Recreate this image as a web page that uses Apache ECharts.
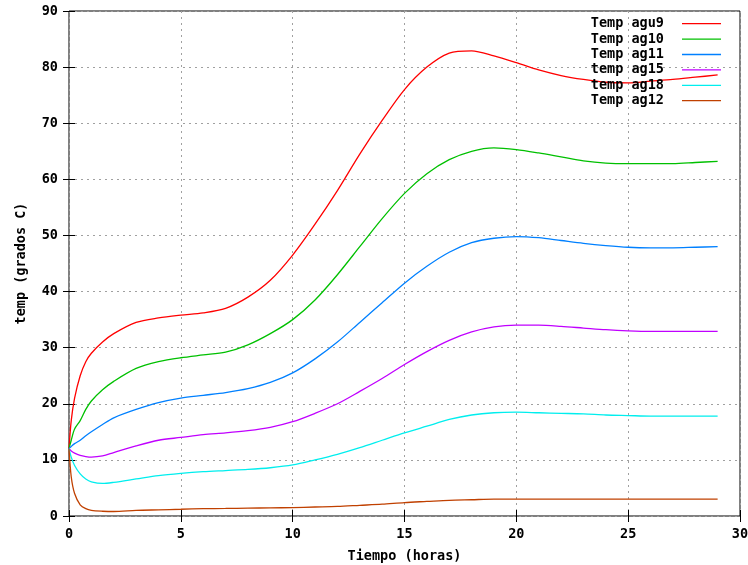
<!DOCTYPE html>
<html lang="es">
<head>
    <meta charset="UTF-8">
    <title>temp</title>
    <style>
        body { margin: 0; background: #fff; }
        .main { width: 748px; height: 565px; }
    </style>
    <script src="https://cdn.jsdelivr.net/npm/echarts@6/dist/echarts.min.js"></script>
</head>
<body>
    <div class="main"></div>
    <script>
        // horas
        var tiempo = [0, 0.1, 0.25, 0.5, 0.75, 1, 1.5, 2, 3, 4, 5, 6, 7, 8, 9, 10, 11, 12, 13, 14, 15, 16, 17, 18, 19, 20, 21, 22, 23, 24, 25, 26, 27, 28, 29];

        var agu9 = [12, 17, 21, 25, 27.5, 29, 31, 32.5, 34.5, 35.3, 35.8, 36.2, 37, 39, 42, 46.5, 52, 58, 64.5, 70.5, 76, 80, 82.5, 82.9, 82, 80.8, 79.5, 78.5, 77.8, 77.3, 77.2, 77.5, 77.8, 78.2, 78.6];
        var ag10 = [12, 13.5, 15.5, 17, 19, 20.5, 22.5, 24, 26.3, 27.5, 28.2, 28.7, 29.2, 30.5, 32.5, 35, 38.5, 43, 48, 53, 57.5, 61, 63.5, 65, 65.6, 65.3, 64.7, 64, 63.3, 62.9, 62.8, 62.8, 62.8, 63, 63.2];
        var ag11 = [12, 12.4, 12.9, 13.5, 14.3, 15, 16.3, 17.5, 19, 20.2, 21, 21.5, 22, 22.7, 23.8, 25.5, 28, 31, 34.5, 38, 41.5, 44.5, 47, 48.7, 49.5, 49.8, 49.6, 49.1, 48.6, 48.2, 47.9, 47.8, 47.8, 47.9, 48];
        var ag15 = [12, 11.6, 11.2, 10.8, 10.6, 10.5, 10.7, 11.3, 12.5, 13.5, 14, 14.5, 14.8, 15.2, 15.8, 16.8, 18.3, 20, 22.2, 24.5, 27, 29.3, 31.3, 32.8, 33.7, 34, 34, 33.8, 33.5, 33.2, 33, 32.9, 32.9, 32.9, 32.9];
        var ag18 = [12, 10.5, 9, 7.5, 6.6, 6.1, 5.8, 6, 6.6, 7.2, 7.6, 7.9, 8.1, 8.3, 8.6, 9.1, 10, 11, 12.2, 13.5, 14.8, 16, 17.2, 18, 18.4, 18.5, 18.4, 18.3, 18.2, 18, 17.9, 17.8, 17.8, 17.8, 17.8];
        var ag12 = [12, 7, 4, 2, 1.3, 1, 0.85, 0.8, 1, 1.1, 1.2, 1.3, 1.35, 1.4, 1.45, 1.5, 1.6, 1.7, 1.9, 2.1, 2.4, 2.6, 2.8, 2.9, 3, 3, 3, 3, 3, 3, 3, 3, 3, 3, 3];

        var nombres = ['Temp agu9', 'Temp ag10', 'Temp ag11', 'temp ag15', 'temp ag18', 'Temp ag12'];
        var colores = ['#ff0000', '#00c000', '#0080ff', '#c000ff', '#00eeee', '#c04000'];
        var valores = [agu9, ag10, ag11, ag15, ag18, ag12];

        var fuente = 'DejaVu Sans Mono';
        var texto = { fontFamily: fuente, fontWeight: 'bold', fontSize: 13.5, color: '#000' };
        var myChart = echarts.init(document.querySelector('.main'));

        var series = [];
        for (var i = 0; i < nombres.length; i++) {
            var puntos = [];
            for (var j = 0; j < tiempo.length; j++) {
                puntos.push([tiempo[j], valores[i][j]]);
            }
            series.push({
                name: nombres[i],
                type: 'line',
                data: puntos,
                smooth: 0.3,
                showSymbol: false,
                lineStyle: { color: colores[i], width: 1.3 },
                itemStyle: { color: colores[i] }
            });
        }

        var rejilla = { show: true, lineStyle: { color: '#a0a0a0', type: [2, 4], width: 1 } };
        var marcas = { inside: true, length: 6, lineStyle: { color: '#000' } };

        var option = {
            animation: false,
            backgroundColor: '#fff',
            grid: {
                left: 69, right: 8, top: 11, bottom: 49,
                outerBoundsMode: 'none',
                show: true, borderColor: '#000', borderWidth: 1
            },
            legend: {
                orient: 'vertical',
                right: 27,
                top: 16,
                padding: 0,
                align: 'right',
                itemGap: 0,
                itemWidth: 39,
                itemHeight: 10,
                icon: 'path://M0,5L39,5L39,6.3L0,6.3Z',
                textStyle: Object.assign({}, texto, { lineHeight: 15.4, padding: [0, 13, 0, 0] }),
                data: nombres.map(function (n, k) {
                    return { name: n, itemStyle: { color: colores[k] } };
                })
            },
            xAxis: [{
                type: 'value',
                min: 0, max: 30, interval: 5,
                name: 'Tiempo (horas)',
                nameLocation: 'middle',
                nameGap: 33,
                nameTextStyle: texto,
                axisLine: { show: false },
                axisTick: marcas,
                axisLabel: Object.assign({ margin: 11 }, texto),
                splitLine: rejilla
            }, {
                type: 'value',
                position: 'top',
                min: 0, max: 30, interval: 5,
                axisLine: { show: false },
                axisTick: marcas,
                axisLabel: { show: false },
                splitLine: { show: false }
            }],
            yAxis: [{
                type: 'value',
                min: 0, max: 90, interval: 10,
                name: 'temp (grados C)',
                nameLocation: 'middle',
                nameGap: 41,
                nameTextStyle: texto,
                axisLine: { show: false },
                axisTick: marcas,
                axisLabel: Object.assign({ margin: 11 }, texto),
                splitLine: rejilla
            }, {
                type: 'value',
                position: 'right',
                min: 0, max: 90, interval: 10,
                axisLine: { show: false },
                axisTick: marcas,
                axisLabel: { show: false },
                splitLine: { show: false }
            }],
            series: series
        };

        myChart.setOption(option);
    </script>
</body>
</html>
